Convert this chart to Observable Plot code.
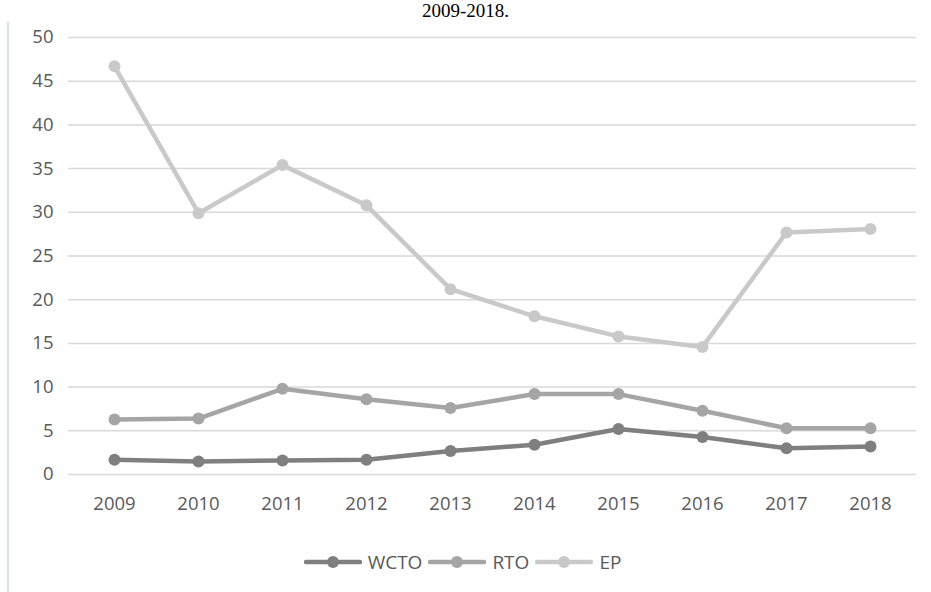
<!DOCTYPE html>
<html>
<head>
<meta charset="utf-8">
<script src="https://cdn.jsdelivr.net/npm/d3@7"></script>
<script src="https://cdn.jsdelivr.net/npm/@observablehq/plot@0.6"></script>
<style>
  html, body { margin: 0; padding: 0; background: #fff; }
  #wrap { position: relative; width: 931px; height: 592px; overflow: hidden; font-family: "Open Sans", sans-serif; }
  #border { position: absolute; left: 7px; top: 22px; width: 2px; height: 580px; background: #d9dfe7; }
  #title { position: absolute; left: 0; top: 1px; width: 931px; text-align: center; font-family: "Liberation Serif", serif; font-size: 19px; line-height: 20px; color: #000; white-space: nowrap; }
  #chart { position: absolute; left: 0; top: 0; }
  #legend { position: absolute; left: 0; top: 549px; width: 931px; display: flex; justify-content: center; align-items: center; }
  .item { display: flex; align-items: center; margin-right: 6px; }
  .item span { font-size: 19px; color: #595959; margin-left: 6px; }
</style>
</head>
<body>
<div id="wrap">
  <div id="border"></div>
  <div id="title">2009-2018.</div>
  <div id="chart"></div>
  <div id="legend"></div>
</div>
<script>
const years = ["2009","2010","2011","2012","2013","2014","2015","2016","2017","2018"];
const seriesNames = ["WCTO", "RTO", "EP"];
const wcto = [1.7, 1.5, 1.6, 1.7, 2.7, 3.4, 5.2, 4.3, 3.0, 3.2];
const rto  = [6.3, 6.4, 9.8, 8.6, 7.6, 9.2, 9.2, 7.3, 5.3, 5.3];
const ep   = [46.7, 29.9, 35.4, 30.8, 21.2, 18.1, 15.8, 14.6, 27.7, 28.1];
const yTicks = [0, 5, 10, 15, 20, 25, 30, 35, 40, 45, 50];
const colors = ["#7f7f7f", "#a5a5a5", "#c9c9c9"];

const valuesBySeries = { WCTO: wcto, RTO: rto, EP: ep };
const data = [];
for (const s of seriesNames) {
  years.forEach((y, i) => data.push({ year: y, series: s, value: valuesBySeries[s][i] }));
}
const order = ["EP", "RTO", "WCTO"];
const sorted = order.flatMap(s => data.filter(d => d.series === s));

const chart = Plot.plot({
  width: 931,
  height: 530,
  marginLeft: 68,
  marginRight: 15,
  marginTop: 37,
  marginBottom: 56,
  style: { fontFamily: "Open Sans, sans-serif", fontSize: "18.5px", color: "#595959", background: "transparent" },
  x: { type: "point", domain: years, padding: 0.5, label: null, tickSize: 0, tickPadding: 22 },
  y: { domain: [0, 50], ticks: yTicks, label: null, tickSize: 0, tickPadding: 15 },
  color: { domain: seriesNames, range: colors },
  marks: [
    Plot.ruleY(yTicks, { stroke: "#d9d9d9", strokeWidth: 1.5 }),
    Plot.line(sorted, { x: "year", y: "value", z: "series", stroke: "series", strokeWidth: 4.5, strokeLinejoin: "round", strokeLinecap: "round" }),
    Plot.dot(sorted, { x: "year", y: "value", fill: "series", r: 6, stroke: "none" })
  ]
});
document.getElementById("chart").appendChild(chart);

const legend = d3.select("#legend");
seriesNames.forEach((s, i) => {
  const item = legend.append("div").attr("class", "item");
  const svg = item.append("svg").attr("width", 58).attr("height", 16);
  svg.append("line").attr("x1", 2).attr("x2", 56).attr("y1", 8).attr("y2", 8)
     .attr("stroke", colors[i]).attr("stroke-width", 4.5).attr("stroke-linecap", "round");
  svg.append("circle").attr("cx", 29).attr("cy", 8).attr("r", 6).attr("fill", colors[i]);
  item.append("span").text(s);
});
</script>
</body>
</html>
